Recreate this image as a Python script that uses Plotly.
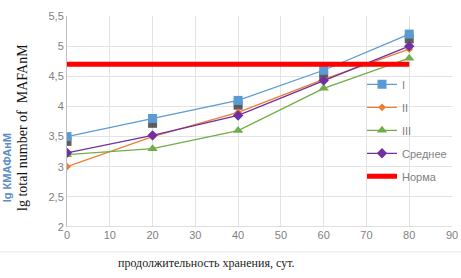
import plotly.graph_objects as go

days = [0, 20, 40, 60, 80]
series_I = [3.5, 3.8, 4.1, 4.6, 5.2]
series_II = [3.0, 3.5, 3.9, 4.45, 4.95]
series_III = [3.2, 3.3, 3.6, 4.3, 4.8]
series_mean = [3.23, 3.52, 3.85, 4.43, 5.0]
shadow_vals = [3.42, 3.72, 4.02, 4.52, 5.12]
norma_x = [0, 80]
norma_y = [4.7, 4.7]

x_ticks = [0, 10, 20, 30, 40, 50, 60, 70, 80, 90]
y_ticks = [2, 2.5, 3, 3.5, 4, 4.5, 5, 5.5]

fig = go.Figure()
fig.add_trace(go.Scatter(x=days, y=shadow_vals, mode="markers", showlegend=False,
                         marker=dict(symbol="square", size=9, color="rgba(40,40,40,0.75)"),
                         hoverinfo="skip"))
fig.add_trace(go.Scatter(x=days, y=series_I, name="I", mode="lines+markers", legendgroup="a",
                         line=dict(color="#5B9BD5", width=1.3),
                         marker=dict(symbol="square", size=9, color="#5B9BD5")))
fig.add_trace(go.Scatter(x=days, y=series_II, name="II", mode="lines+markers", legendgroup="b",
                         line=dict(color="#ED7D31", width=1.3),
                         marker=dict(symbol="diamond", size=6, color="#ED7D31")))
fig.add_trace(go.Scatter(x=days, y=series_III, name="III", mode="lines+markers", legendgroup="c",
                         line=dict(color="#70AD47", width=1.3),
                         marker=dict(symbol="triangle-up", size=9, color="#70AD47")))
fig.add_trace(go.Scatter(x=days, y=series_mean, name="Среднее", mode="lines+markers", legendgroup="d",
                         line=dict(color="#7030A0", width=1.3),
                         marker=dict(symbol="diamond", size=8, color="#7030A0")))
fig.add_trace(go.Scatter(x=norma_x, y=norma_y, name="Норма", mode="lines", legendgroup="e",
                         line=dict(color="#FF0000", width=5)))

fig.update_layout(
    width=461, height=278,
    margin=dict(l=67, r=9, t=16, b=51),
    paper_bgcolor="white", plot_bgcolor="white",
    separators=", ",
    font=dict(family="Liberation Sans, Arial, sans-serif", size=11, color="#7F7F7F"),
    xaxis=dict(range=[0, 90], tickvals=x_ticks, showgrid=True, gridcolor="#E3E3E3",
               zeroline=False, showline=False, ticks="", automargin=False,
               tickfont=dict(size=11, color="#7F7F7F")),
    yaxis=dict(range=[2, 5.5], tickvals=y_ticks, showgrid=True, gridcolor="#E3E3E3",
               zeroline=False, showline=True, linecolor="#BFBFBF", linewidth=1, ticks="",
               automargin=False, tickformat=".1~f", tickfont=dict(size=11, color="#7F7F7F")),
    legend=dict(x=1.0, y=0.745, xanchor="right", yanchor="top", bgcolor="rgba(0,0,0,0)",
                font=dict(size=11, color="#7F7F7F"), traceorder="grouped", tracegroupgap=4,
                itemwidth=30),
    showlegend=True,
)

fig.add_shape(type="line", xref="paper", yref="y", x0=0, x1=1, y0=2, y1=2,
              line=dict(color="#BFBFBF", width=1))
fig.add_shape(type="line", xref="paper", yref="paper", x0=-0.18, x1=1.03, y0=-0.118, y1=-0.118,
              line=dict(color="#E8E8E8", width=1))

fig.add_annotation(text="продолжительность хранения, сут.", xref="paper", yref="paper",
                   x=0.361, y=-0.171, xanchor="center", yanchor="middle", showarrow=False,
                   font=dict(family="Liberation Serif, Times New Roman, serif", size=12, color="#222222"))
fig.add_annotation(text="lg total number of  MAFAnM", xref="paper", yref="paper",
                   x=-0.114, y=0.47, textangle=-90, xanchor="center", yanchor="middle", showarrow=False,
                   font=dict(family="Liberation Serif, Times New Roman, serif", size=14, color="#111111"))
fig.add_annotation(text="<b>lg КМАФАнМ</b>", xref="paper", yref="paper",
                   x=-0.155, y=0.28, textangle=-90, xanchor="center", yanchor="middle", showarrow=False,
                   font=dict(family="Liberation Sans, Arial, sans-serif", size=11, color="#5B8DC9"))

fig.write_html("out.html", config={"displayModeBar": False},
               post_script="document.body.style.margin='0';document.body.style.overflow='hidden';")
